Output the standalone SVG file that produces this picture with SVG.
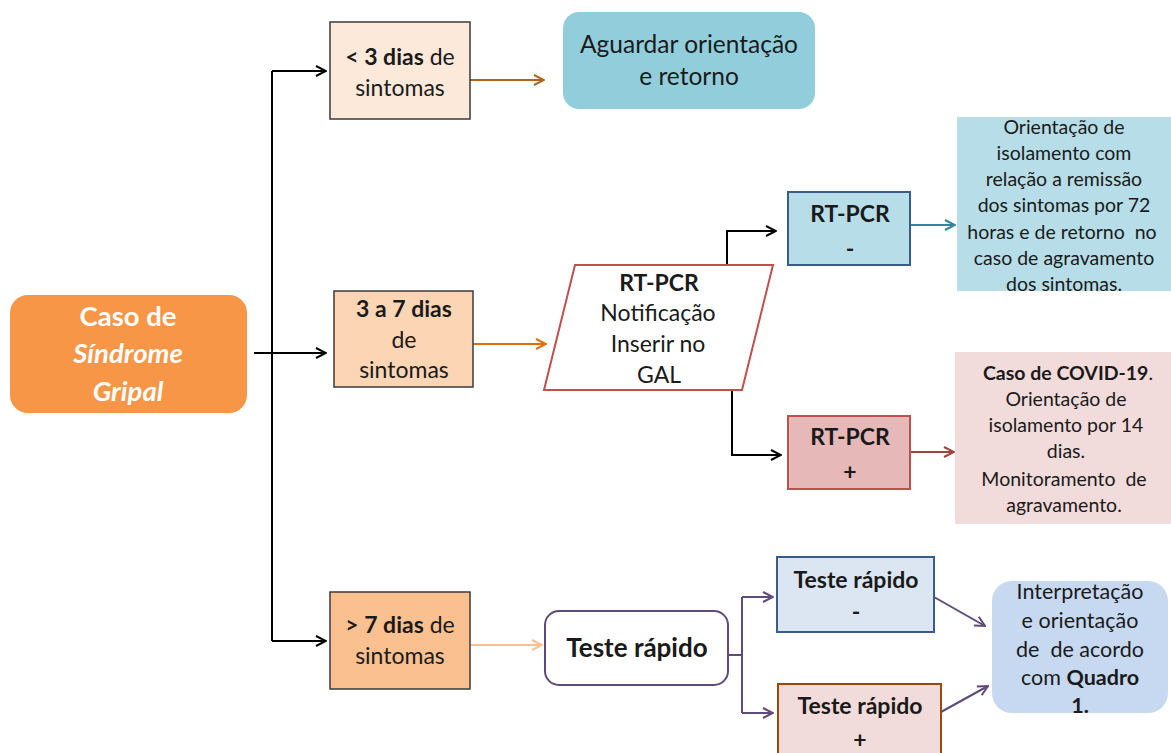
<svg xmlns="http://www.w3.org/2000/svg" width="1171" height="753" viewBox="0 0 1171 753">
<style>
text{font-family:Lato,"Open Sans","Noto Sans",sans-serif;text-anchor:middle;fill:#1a1a1a}
.b{font-weight:bold}
.t20{font-size:23px}
.t17{font-size:19.5px}
.ln{fill:none;stroke-width:2}
</style>
<defs>
<marker id="mk" viewBox="0 0 12 12" refX="11" refY="6" markerWidth="12" markerHeight="12" markerUnits="userSpaceOnUse" orient="auto"><path d="M1,1 L11,6 L1,11" fill="none" stroke="#000" stroke-width="2"/></marker>
<marker id="mbr" viewBox="0 0 12 12" refX="11" refY="6" markerWidth="12" markerHeight="12" markerUnits="userSpaceOnUse" orient="auto"><path d="M1,1 L11,6 L1,11" fill="none" stroke="#B1621F" stroke-width="2"/></marker>
<marker id="mor" viewBox="0 0 12 12" refX="11" refY="6" markerWidth="12" markerHeight="12" markerUnits="userSpaceOnUse" orient="auto"><path d="M1,1 L11,6 L1,11" fill="none" stroke="#E46C0A" stroke-width="2"/></marker>
<marker id="mlo" viewBox="0 0 12 12" refX="11" refY="6" markerWidth="12" markerHeight="12" markerUnits="userSpaceOnUse" orient="auto"><path d="M1,1 L11,6 L1,11" fill="none" stroke="#FAC090" stroke-width="2"/></marker>
<marker id="mtl" viewBox="0 0 12 12" refX="11" refY="6" markerWidth="12" markerHeight="12" markerUnits="userSpaceOnUse" orient="auto"><path d="M1,1 L11,6 L1,11" fill="none" stroke="#31859C" stroke-width="2"/></marker>
<marker id="mrd" viewBox="0 0 12 12" refX="11" refY="6" markerWidth="12" markerHeight="12" markerUnits="userSpaceOnUse" orient="auto"><path d="M1,1 L11,6 L1,11" fill="none" stroke="#A04340" stroke-width="2"/></marker>
<marker id="mpu" viewBox="0 0 12 12" refX="11" refY="6" markerWidth="12" markerHeight="12" markerUnits="userSpaceOnUse" orient="auto"><path d="M1,1 L11,6 L1,11" fill="none" stroke="#5F4B7A" stroke-width="2"/></marker>
</defs>

<g id="connectors">
<path class="ln" stroke="#000" d="M272,71 V641"/>
<path class="ln" stroke="#000" d="M272,71 H326" marker-end="url(#mk)"/>
<path class="ln" stroke="#000" d="M254,353 H326" marker-end="url(#mk)"/>
<path class="ln" stroke="#000" d="M272,641 H326" marker-end="url(#mk)"/>
<path class="ln" stroke="#B1621F" d="M470,80 H544" marker-end="url(#mbr)"/>
<path class="ln" stroke="#E46C0A" d="M473,344 H546" marker-end="url(#mor)"/>
<path class="ln" stroke="#FAC090" d="M470,645 H542" marker-end="url(#mlo)"/>
<path class="ln" stroke="#000" d="M727,293 V231 H776" marker-end="url(#mk)"/>
<path class="ln" stroke="#000" d="M732,390 V455 H781" marker-end="url(#mk)"/>
<path class="ln" stroke="#31859C" d="M910,225 H955" marker-end="url(#mtl)"/>
<path class="ln" stroke="#A04340" d="M910,452 H954" marker-end="url(#mrd)"/>
<path class="ln" stroke="#5F4B7A" d="M728,655 H742"/>
<path class="ln" stroke="#5F4B7A" d="M742,597 V713"/>
<path class="ln" stroke="#5F4B7A" d="M742,597 H773" marker-end="url(#mpu)"/>
<path class="ln" stroke="#5F4B7A" d="M742,713 H773" marker-end="url(#mpu)"/>
<path class="ln" stroke="#5F4B7A" d="M934,597 L985,626" marker-end="url(#mpu)"/>
<path class="ln" stroke="#5F4B7A" d="M941,712 L988,686" marker-end="url(#mpu)"/>
</g>

<g id="caso">
<rect x="10" y="295" width="237" height="118" rx="18" fill="#F79646"/>
<text x="128" y="326" style="font-size:27.5px;fill:#fff" class="b">Caso de</text>
<text x="128" y="363" style="font-size:27.5px;fill:#fff;font-style:italic" class="b">Síndrome</text>
<text x="128" y="401" style="font-size:27.5px;fill:#fff;font-style:italic" class="b">Gripal</text>
</g>

<g id="menos3">
<rect x="330" y="22" width="140" height="97" fill="#FDE9D9" stroke="#3a3a3a" stroke-width="1.5"/>
<text x="400" y="65" class="t20"><tspan class="b">&lt; 3 dias</tspan> de</text>
<text x="400" y="96" class="t20">sintomas</text>
</g>

<g id="aguardar">
<rect x="563" y="12" width="252" height="97" rx="16" fill="#92CDDC"/>
<text x="689" y="53" style="font-size:24.5px">Aguardar orientação</text>
<text x="689" y="85" style="font-size:24.5px">e retorno</text>
</g>

<g id="de3a7">
<rect x="334" y="291" width="139" height="96" fill="#FCD5B5" stroke="#3a3a3a" stroke-width="1.5"/>
<text x="404" y="317" class="t20 b">3 a 7 dias</text>
<text x="404" y="348" class="t20">de</text>
<text x="404" y="378" class="t20">sintomas</text>
</g>

<g id="rtpcr">
<polygon points="575,265 773,265 742,390 544,390" fill="#fff" stroke="#C0504D" stroke-width="2"/>
<text x="659" y="291" class="t20 b">RT-PCR</text>
<text x="658" y="321" class="t20">Notificação</text>
<text x="658" y="352" class="t20">Inserir no</text>
<text x="659" y="383" class="t20">GAL</text>
</g>

<g id="rtpcr-neg">
<rect x="788" y="192" width="122" height="73" fill="#B7DEE8" stroke="#385D8A" stroke-width="2"/>
<text x="850" y="222" class="t20 b">RT-PCR</text>
<text x="850" y="257" class="t20 b">-</text>
</g>

<g id="rtpcr-pos">
<rect x="788" y="416" width="122" height="73" fill="#E6B9B8" stroke="#C0504D" stroke-width="2"/>
<text x="850" y="445" class="t20 b">RT-PCR</text>
<text x="850" y="480" class="t20 b">+</text>
</g>

<g id="orient-neg">
<rect x="957" y="117" width="214" height="174" fill="#B7DEE8"/>
<text x="1064" y="134" class="t17">Orientação de</text>
<text x="1064" y="160" class="t17">isolamento com</text>
<text x="1064" y="186" class="t17">relação a remissão</text>
<text x="1064" y="212" class="t17">dos sintomas por 72</text>
<text x="1062" y="239" class="t17" xml:space="preserve">horas e de retorno  no</text>
<text x="1064" y="265" class="t17">caso de agravamento</text>
<text x="1064" y="291" class="t17">dos sintomas.</text>
</g>

<g id="orient-pos">
<rect x="955" y="352" width="216" height="172" fill="#F2DCDB"/>
<text x="1068" y="380" class="t17"><tspan class="b">Caso de COVID-19</tspan>.</text>
<text x="1066" y="406" class="t17">Orientação de</text>
<text x="1066" y="432" class="t17">isolamento por 14</text>
<text x="1066" y="458" class="t17">dias.</text>
<text x="1064" y="486" class="t17" xml:space="preserve">Monitoramento  de</text>
<text x="1064" y="512" class="t17">agravamento.</text>
</g>

<g id="mais7">
<rect x="330" y="592" width="140" height="97" fill="#FAC090" stroke="#3a3a3a" stroke-width="1.5"/>
<text x="400" y="633" class="t20"><tspan class="b">&gt; 7 dias</tspan> de</text>
<text x="400" y="664" class="t20">sintomas</text>
</g>

<g id="teste">
<rect x="545" y="611" width="183" height="74" rx="14" fill="#fff" stroke="#604A7B" stroke-width="2"/>
<text x="637" y="657" style="font-size:26px" class="b">Teste rápido</text>
</g>

<g id="teste-neg">
<rect x="777" y="557" width="157" height="75" fill="#DCE6F2" stroke="#385D8A" stroke-width="2"/>
<text x="856" y="588" class="t20 b">Teste rápido</text>
<text x="856" y="620" class="t20 b">-</text>
</g>

<g id="teste-pos">
<rect x="778" y="684" width="163" height="75" fill="#F2DCDB" stroke="#984807" stroke-width="2"/>
<text x="860" y="714" class="t20 b">Teste rápido</text>
<text x="860" y="748" class="t20 b">+</text>
</g>

<g id="interp">
<rect x="992" y="581" width="176" height="132" rx="20" fill="#C6D9F1"/>
<text x="1080" y="599" style="font-size:21.5px">Interpretação</text>
<text x="1080" y="628" style="font-size:21.5px">e orientação</text>
<text x="1080" y="657" style="font-size:21.5px" xml:space="preserve">de  de acordo</text>
<text x="1080" y="685" style="font-size:21.5px">com <tspan class="b">Quadro</tspan></text>
<text x="1080" y="713" style="font-size:21.5px" class="b">1.</text>
</g>
</svg>
